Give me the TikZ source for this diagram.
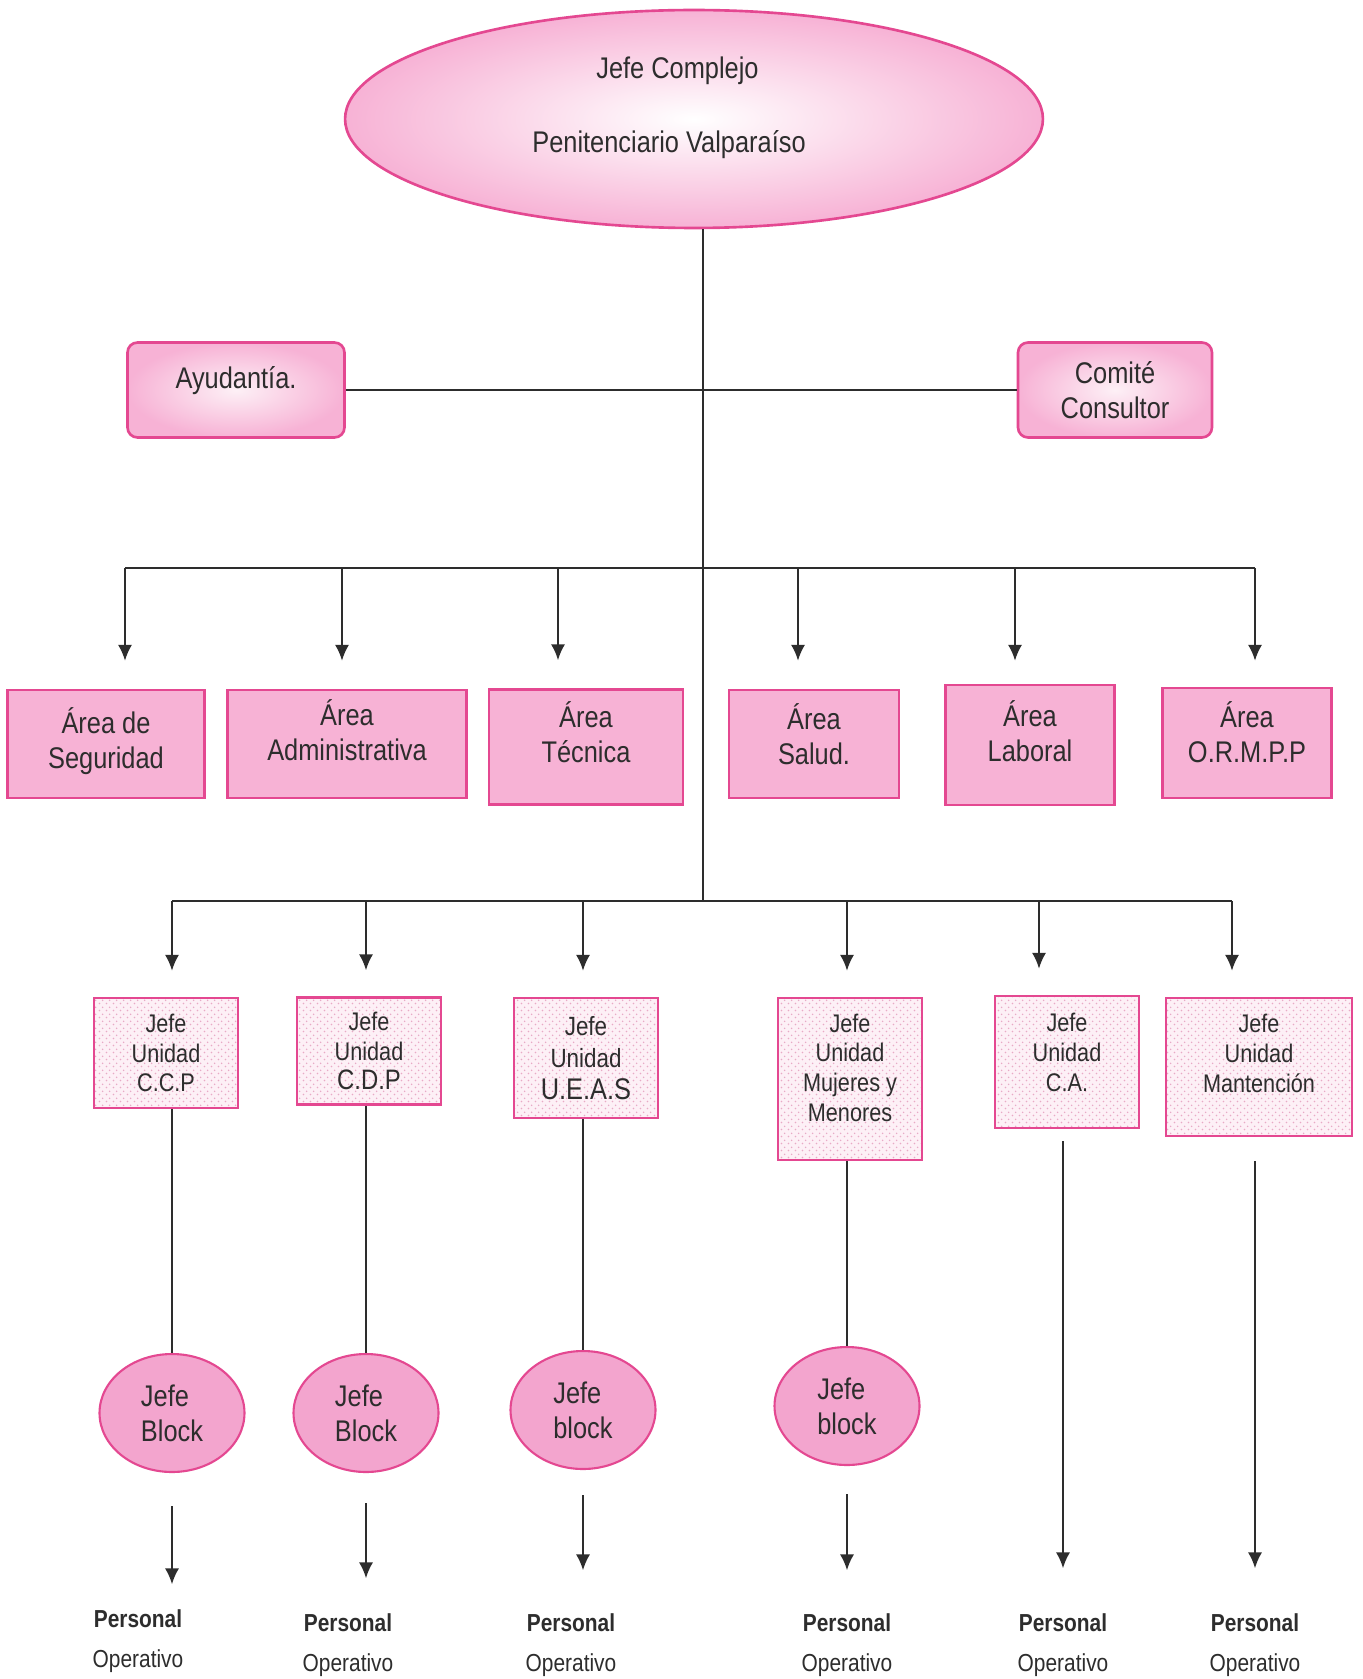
\documentclass[tikz,border=0pt]{standalone}
\usepackage{fontspec}
\setmainfont{Liberation Sans}[FakeStretch=0.85]
\usetikzlibrary{shapes.geometric,patterns,arrows.meta}

\definecolor{rosa}{RGB}{247,178,213}
\definecolor{rosafuerte}{RGB}{243,165,206}
\definecolor{borde}{RGB}{228,72,145}
\definecolor{rosaclaro}{RGB}{253,240,246}
\definecolor{punto}{RGB}{232,170,198}
\definecolor{tinta}{RGB}{45,45,45}

\pgfdeclarepatternformonly{puntos}{\pgfqpoint{0pt}{0pt}}{\pgfqpoint{4pt}{4pt}}{\pgfqpoint{4pt}{4pt}}{
  \pgfpathcircle{\pgfqpoint{1pt}{1pt}}{0.55pt}
  \pgfpathcircle{\pgfqpoint{3pt}{3pt}}{0.55pt}
  \pgfusepath{fill}}

\tikzset{
  linea/.style={line width=1.1pt, draw=tinta},
  flecha/.style={linea, -{Latex[length=9pt,width=8pt]}},
  elipse/.style={ellipse, draw=borde, line width=1.5pt, inner color=white, outer color=rosa,
    inner sep=0pt, align=center, text=tinta, font=\fontsize{17}{20}\selectfont},
  apoyo/.style={rectangle, rounded corners=0.2cm, draw=borde, line width=1.5pt,
    inner color=rosaclaro, outer color=rosa, inner sep=0pt, align=center, text=tinta,
    font=\fontsize{17}{20}\selectfont},
  area/.style={rectangle, draw=borde, line width=1.5pt, fill=rosa, inner sep=0pt,
    minimum height=2.16cm, align=center, text=tinta, font=\fontsize{17}{20}\selectfont},
  unidad/.style={rectangle, draw=borde, line width=1.5pt, preaction={fill=rosaclaro},
    pattern=puntos, pattern color=punto, inner sep=0pt, minimum width=2.88cm,
    align=center, text=tinta, font=\fontsize{14.5}{17}\selectfont},
  bloque/.style={ellipse, draw=borde, line width=1.2pt, fill=rosafuerte, inner sep=0pt,
    minimum width=2.9cm, minimum height=2.36cm, align=left, text=tinta,
    font=\fontsize{17}{20}\selectfont},
  personal/.style={inner sep=0pt, align=center, text=tinta, font=\fontsize{14}{22.7}\selectfont}
}

\begin{document}
\begin{tikzpicture}[x=0.02cm,y=-0.02cm]
  \useasboundingbox[fill=white] (0,0) rectangle (1362,1679);

  % jefatura
  \node[elipse, minimum width=13.96cm, minimum height=4.36cm] (jefe) at (694,119)
    {Jefe Complejo\kern0.66cm\\[22pt]Penitenciario Valparaíso\kern1.0cm\\[-4pt]};
  \node[apoyo, minimum width=4.34cm, minimum height=1.9cm] (ayu) at (236,390) {Ayudantía.\\[-6pt]};
  \node[apoyo, minimum width=3.88cm, minimum height=1.9cm] (com) at (1115,390) {Comité\\Consultor};

  \coordinate (bus1) at (703,568);
  \coordinate (bus2) at (703,901);
  \draw[linea] (jefe.south -| bus1) -- (bus2);
  \draw[linea] (ayu.east) -- (com.west);

  % areas
  \node[area, minimum width=3.94cm] (a1) at (106,744) {Área de\\Seguridad\\[-13pt]};
  \node[area, minimum width=4.78cm] (a2) at (347,744) {Área\\Administrativa\\[-4pt]};
  \node[area, minimum width=3.88cm, minimum height=2.3cm] (a3) at (586,747) {Área\\Técnica\\[-3pt]};
  \node[area, minimum width=3.4cm] (a4) at (814,744) {Área\\Salud.\\[-9pt]};
  \node[area, minimum width=3.38cm, minimum height=2.4cm] (a5) at (1030,745) {Área\\Laboral\\[-4pt]};
  \node[area, minimum width=3.38cm, minimum height=2.2cm] (a6) at (1247,743) {Área\\O.R.M.P.P\\[-8pt]};

  \coordinate (s1) at (125,568);
  \coordinate (s2) at (342,568);
  \coordinate (s3) at (558,568);
  \coordinate (s4) at (798,568);
  \coordinate (s5) at (1015,568);
  \coordinate (s6) at (1255,568);
  \draw[linea] (s1) -- (s6);
  \draw[flecha, shorten >=0.56cm] (s1) -- (s1 |- a1.north);
  \draw[flecha, shorten >=0.56cm] (s2) -- (s2 |- a2.north);
  \draw[flecha, shorten >=0.56cm] (s3) -- (s3 |- a3.north);
  \draw[flecha, shorten >=0.56cm] (s4) -- (s4 |- a4.north);
  \draw[flecha, shorten >=0.46cm] (s5) -- (s5 |- a5.north);
  \draw[flecha, shorten >=0.52cm] (s6) -- (s6 |- a6.north);

  % unidades
  \node[unidad, minimum height=2.2cm] (u1) at (166,1053) {Jefe\\Unidad\\C.C.P};
  \node[unidad, minimum height=2.14cm] (u2) at (369,1051) {Jefe\\Unidad\\{\fontsize{16}{18}\selectfont C.D.P}};
  \node[unidad, minimum height=2.4cm, font=\fontsize{15}{18}\selectfont] (u3) at (586,1058)
    {Jefe\\Unidad\\{\fontsize{17}{19}\selectfont U.E.A.S}};
  \node[unidad, minimum height=3.24cm] (u4) at (850,1079) {Jefe\\Unidad\\Mujeres y\\Menores\\[-4pt]};
  \node[unidad, minimum height=2.64cm] (u5) at (1067,1062) {Jefe\\Unidad\\C.A.\\[-6pt]};
  \node[unidad, minimum width=3.72cm, minimum height=2.76cm] (u6) at (1259,1067) {Jefe\\Unidad\\Mantención\\[-1pt]};

  \coordinate (d1) at (172,901);
  \coordinate (d2) at (366,901);
  \coordinate (d3) at (583,901);
  \coordinate (d4) at (847,901);
  \coordinate (d5) at (1039,901);
  \coordinate (d6) at (1232,901);
  \draw[linea] (d1) -- (d6);
  \draw[flecha, shorten >=0.52cm] (d1) -- (d1 |- u1.north);
  \draw[flecha, shorten >=0.52cm] (d2) -- (d2 |- u2.north);
  \draw[flecha, shorten >=0.52cm] (d3) -- (d3 |- u3.north);
  \draw[flecha, shorten >=0.52cm] (d4) -- (d4 |- u4.north);
  \draw[flecha, shorten >=0.52cm] (d5) -- (d5 |- u5.north);
  \draw[flecha, shorten >=0.52cm] (d6) -- (d6 |- u6.north);

  % jefes de block
  \node[bloque] (b1) at (172,1413) {Jefe\\Block};
  \node[bloque] (b2) at (366,1413) {Jefe\\Block};
  \node[bloque] (b3) at (583,1410) {Jefe\\block};
  \node[bloque] (b4) at (847,1406) {Jefe\\block};

  \draw[linea] (b1 |- u1.south) -- (b1.north);
  \draw[linea] (b2 |- u2.south) -- (b2.north);
  \draw[linea] (b3 |- u3.south) -- (b3.north);
  \draw[linea] (b4 |- u4.south) -- (b4.north);

  % personal operativo
  \node[personal] (p1) at (138,1641) {\textbf{Personal}\\Operativo};
  \node[personal] (p2) at (348,1645) {\textbf{Personal}\\Operativo};
  \node[personal] (p3) at (571,1645) {\textbf{Personal}\\Operativo};
  \node[personal] (p4) at (847,1645) {\textbf{Personal}\\Operativo};
  \node[personal] (p5) at (1063,1645) {\textbf{Personal}\\Operativo};
  \node[personal] (p6) at (1255,1645) {\textbf{Personal}\\Operativo};

  \draw[flecha, shorten <=0.66cm, shorten >=0.5cm] (b1.south) -- (b1.south |- p1.north);
  \draw[flecha, shorten <=0.6cm, shorten >=0.7cm] (b2.south) -- (b2.south |- p2.north);
  \draw[flecha, shorten <=0.5cm, shorten >=0.86cm] (b3.south) -- (b3.south |- p3.north);
  \draw[flecha, shorten <=0.56cm, shorten >=0.86cm] (b4.south) -- (b4.south |- p4.north);
  \draw[flecha, shorten <=0.24cm, shorten >=0.9cm] (u5.south -| p5) -- (p5.north);
  \draw[flecha, shorten <=0.48cm, shorten >=0.9cm] (u6.south -| p6) -- (p6.north);
\end{tikzpicture}
\end{document}
